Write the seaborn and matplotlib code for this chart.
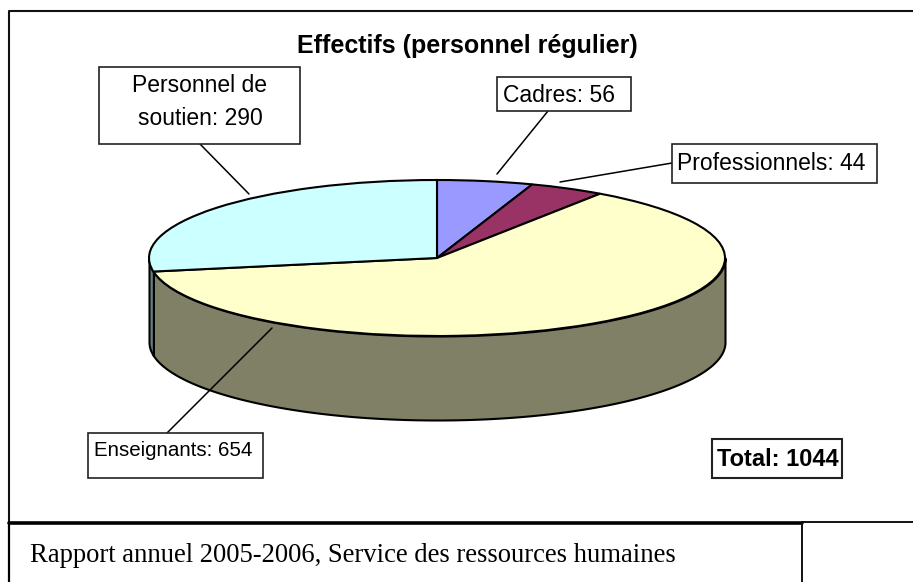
import numpy as np
import matplotlib
matplotlib.use('Agg')
import matplotlib.pyplot as plt
from matplotlib.patches import Rectangle
import seaborn as sns

categories = ['Cadres', 'Professionnels', 'Enseignants', 'Personnel de\nsoutien']
effectifs = [56, 44, 654, 290]
slice_colors = ['#9999FF', '#993366', '#FFFFCC', '#CCFFFF']
title = 'Effectifs (personnel régulier)'
total_label = 'Total: 1044'
footer = 'Rapport annuel 2005-2006, Service des ressources humaines'

W, H = 913, 582
# ellipse of the pie top, in pixels
CX, CY, RX, RY, DEPTH = 437, 258, 288, 78, 84


def box(ax, x0, y0, x1, y1, lw=1.2):
    ax.add_patch(Rectangle((x0, y0), x1 - x0, y1 - y0, fc='white', ec='#222222', lw=lw, zorder=3))


def main():
    sns.set_theme(style='white')
    plt.rcParams['font.family'] = ['Liberation Sans', 'DejaVu Sans']
    plt.rcParams['text.color'] = 'black'

    fig = plt.figure(figsize=(W / 100, H / 100), dpi=100, facecolor='white')

    # pie axes: one data unit = the radius, so the pie comes out as an ellipse
    ax = fig.add_axes([0, 0, 1, 1], zorder=1)
    palette = sns.color_palette(slice_colors)
    wedges, _ = ax.pie(effectifs, colors=palette, startangle=90, counterclock=False,
                       wedgeprops={'edgecolor': 'black', 'linewidth': 1.5, 'zorder': 2})
    ax.set_aspect('auto')
    ax.set_xlim(-CX / RX, (W - CX) / RX)
    ax.set_ylim(-(H - CY) / RY, CY / RY)

    # side wall below the front half of the pie
    drop = DEPTH / RY
    for w, col in zip(wedges, palette):
        t0, t1 = max(w.theta1, -180), min(w.theta2, 0)
        if t1 <= t0:
            continue
        t = np.radians(np.linspace(t0, t1, 200))
        dark = tuple(c * 0.5 for c in col)
        ax.fill_between(np.cos(t), np.sin(t), np.sin(t) - drop, color=dark,
                        edgecolor='black', linewidth=1.5, zorder=1)

    # overlay in pixel coordinates for the frames and callouts
    ov = fig.add_axes([0, 0, 1, 1], zorder=2)
    ov.set_xlim(0, W)
    ov.set_ylim(H, 0)
    ov.axis('off')

    ov.plot([9, 9, W], [522, 11, 11], color='#111111', lw=1.5)
    ov.plot([9, 802], [522.5, 522.5], color='black', lw=2.6)
    ov.plot([802, W], [522, 522], color='black', lw=1.3)
    ov.plot([9, 9], [522, H], color='black', lw=1.6)
    ov.plot([802, 802], [522, H], color='#111111', lw=1.4)

    ov.text(467, 46, title, ha='center', va='center', fontsize=18, fontweight='bold')
    ov.text(30, 555, footer, ha='left', va='center', fontsize=19.15, family='Liberation Serif')

    # leader lines
    for xs, ys in [([200, 249], [144, 194]), ([548, 497], [111, 174]),
                   ([672, 560], [163, 182]), ([167, 272], [433, 328])]:
        ov.plot(xs, ys, color='black', lw=1.1, zorder=2)

    box(ov, 99, 67, 300, 144)
    ov.text(200, 102, categories[3] + f': {effectifs[3]}', ha='center', va='center',
            fontsize=16.5, linespacing=1.52, zorder=4)
    box(ov, 497, 77, 631, 111)
    ov.text(503, 95, f'{categories[0]}: {effectifs[0]}', ha='left', va='center', fontsize=16.5, zorder=4)
    box(ov, 672, 144, 877, 183)
    ov.text(677, 163, f'{categories[1]}: {effectifs[1]}', ha='left', va='center', fontsize=16.5, zorder=4)
    box(ov, 88, 433, 263, 478)
    ov.text(94, 450, f'{categories[2]}: {effectifs[2]}', ha='left', va='center', fontsize=14.8, zorder=4)
    box(ov, 712, 439, 842, 478, lw=1.5)
    ov.text(778, 460, total_label, ha='center', va='center', fontsize=17, fontweight='bold', zorder=4)

    fig.savefig('out.png', dpi=100)


if __name__ == '__main__':
    main()
